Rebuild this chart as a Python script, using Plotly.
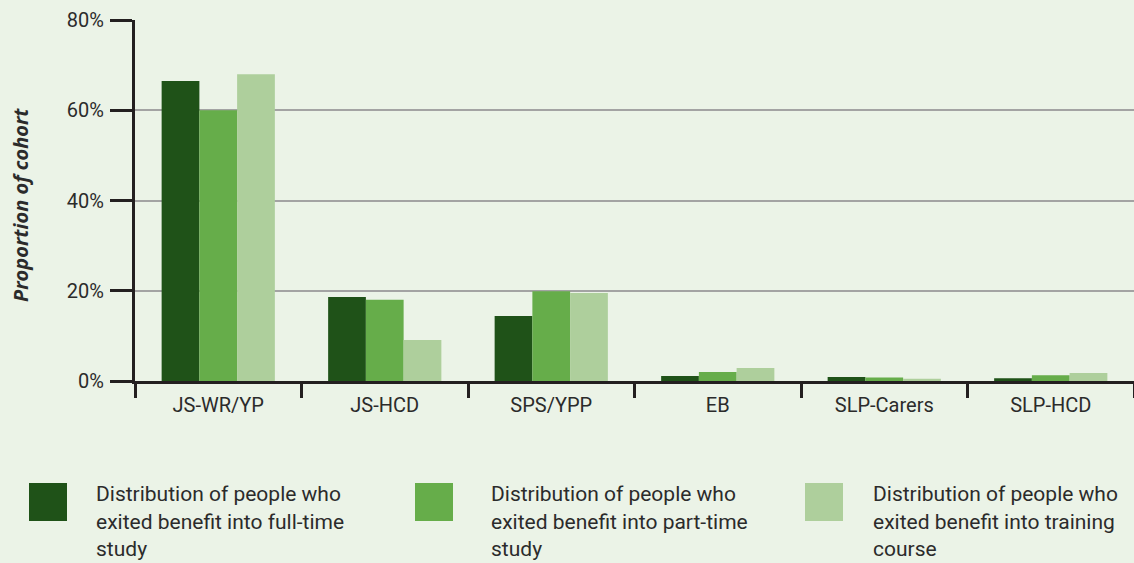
import plotly.graph_objects as go

categories = ["JS-WR/YP", "JS-HCD", "SPS/YPP", "EB", "SLP-Carers", "SLP-HCD"]
full_time = [66.5, 18.6, 14.4, 1.1, 0.9, 0.6]
part_time = [60.0, 18.0, 19.9, 2.0, 0.8, 1.3]
training = [68.0, 9.1, 19.5, 2.9, 0.5, 1.8]

series_names = [
    "Distribution of people who\nexited benefit into full-time\nstudy",
    "Distribution of people who\nexited benefit into part-time\nstudy",
    "Distribution of people who\nexited benefit into training\ncourse",
]
colors = ["#1F5218", "#66AD4A", "#AECF9C"]
y_ticks = [0, 20, 40, 60, 80]

W, H = 1134, 563
ML, MR, MT, MB = 135, 0, 20, 182
BG = "#EBF3E7"
TXT = "#2B2B2B"
FONT = "Roboto"

fig = go.Figure()
for name, vals, col in zip(series_names, [full_time, part_time, training], colors):
    fig.add_trace(go.Bar(
        x=categories, y=vals, name=name.replace("\n", " "),
        marker=dict(color=col, line=dict(width=0)),
    ))


def px_x(px):
    return (px - ML) / (W - ML - MR)


def px_y(py):
    return (H - MB - py) / (H - MT - MB)


# Legend drawn by hand: large square swatches with wrapped labels
shapes = []
annotations = []
legend_swatch_x = [29, 415, 805]
legend_text_x = [96, 491, 873]
for i, (name, col) in enumerate(zip(series_names, colors)):
    x0 = legend_swatch_x[i]
    shapes.append(dict(
        type="rect", xref="paper", yref="paper",
        x0=px_x(x0), x1=px_x(x0 + 38), y0=px_y(521), y1=px_y(483),
        fillcolor=col, line=dict(width=0),
    ))
    for j, line in enumerate(name.split("\n")):
        annotations.append(dict(
            text=line, xref="paper", yref="paper",
            x=px_x(legend_text_x[i] - 2), y=px_y(494 + 27.5 * j),
            xanchor="left", yanchor="middle", showarrow=False,
            font=dict(family=FONT, size=21, color=TXT),
        ))

annotations.append(dict(
    text="<b><i>Proportion of cohort</i></b>", xref="paper", yref="paper",
    x=px_x(20), y=px_y(205), textangle=-90, showarrow=False,
    xanchor="center", yanchor="middle",
    font=dict(family="Open Sans", size=20, color=TXT),
))

fig.update_layout(
    width=W, height=H,
    margin=dict(l=ML, r=MR, t=MT, b=MB),
    paper_bgcolor=BG, plot_bgcolor=BG,
    barmode="group", bargap=0.32, bargroupgap=0,
    showlegend=False,
    shapes=shapes, annotations=annotations,
    font=dict(family=FONT, color=TXT),
    xaxis=dict(
        showline=True, linecolor="#231F20", linewidth=3,
        ticks="outside", tickson="boundaries", ticklen=14,
        tickwidth=3, tickcolor="#231F20",
        tickfont=dict(family=FONT, size=20, color=TXT),
        ticklabelstandoff=4,
        showgrid=False, zeroline=False,
    ),
    yaxis=dict(
        range=[0, 80], tickvals=y_ticks,
        ticktext=[f"{v}%" for v in y_ticks],
        showline=True, linecolor="#231F20", linewidth=3,
        ticks="outside", ticklen=22, tickwidth=3, tickcolor="#231F20",
        tickfont=dict(family=FONT, size=20, color=TXT),
        ticklabelstandoff=2,
        showgrid=True, gridcolor="#A3A3A3", gridwidth=1.5,
        zeroline=False,
    ),
)

fig.write_html("out.html")
